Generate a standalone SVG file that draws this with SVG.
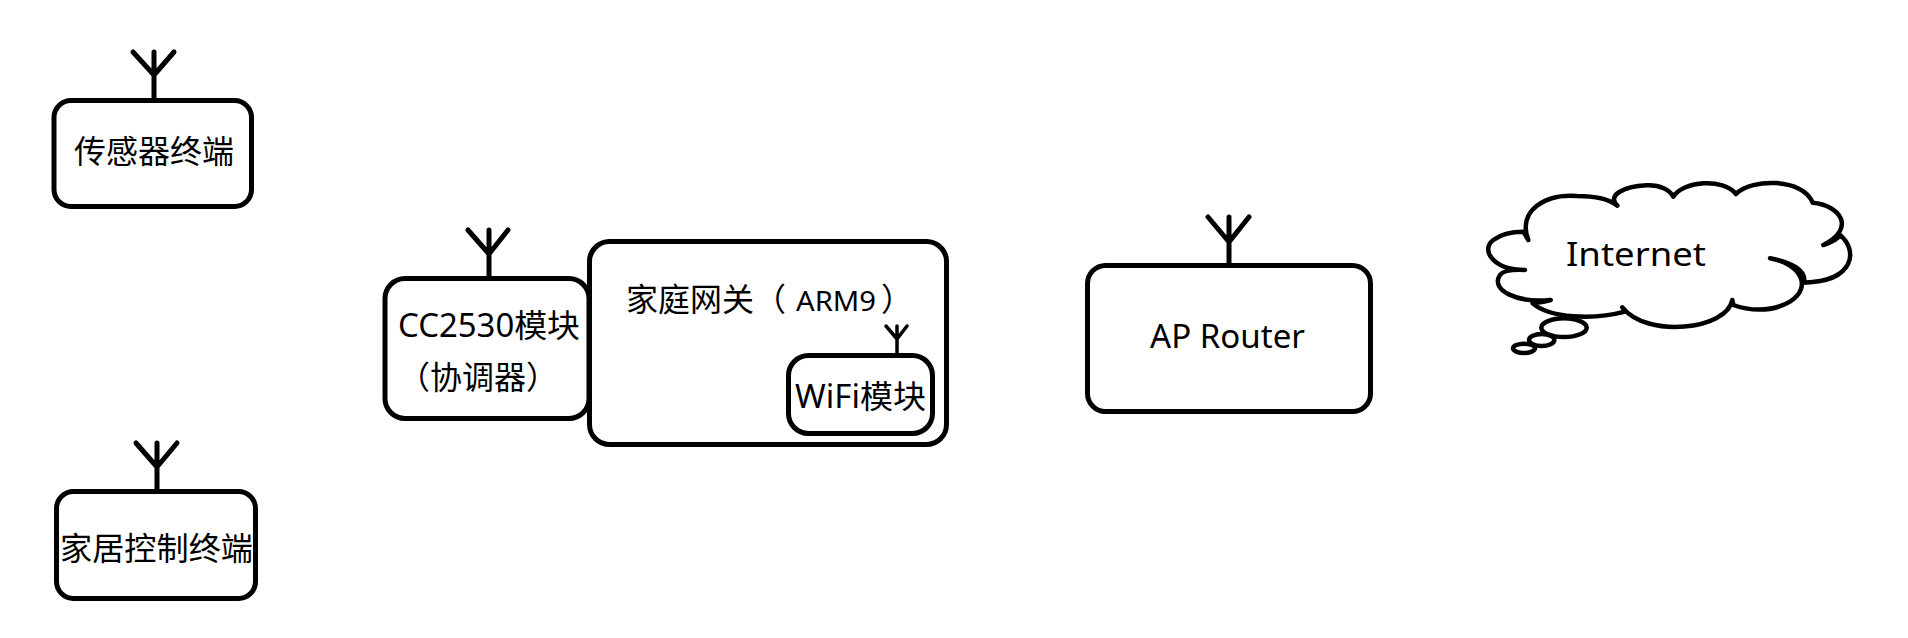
<svg xmlns="http://www.w3.org/2000/svg" width="1908" height="638" viewBox="0 0 1908 638">
<style>
.box{fill:#fff;stroke:#000;stroke-width:5}
.ant{fill:none;stroke:#000;stroke-width:5;stroke-linecap:round;stroke-linejoin:round}
.cloud{fill:#fff;stroke:#000;stroke-width:13.5;stroke-linecap:round;stroke-linejoin:round}
text{font-family:"Noto Sans","Noto Sans CJK SC",sans-serif;font-size:32px;fill:#000}
</style>
<rect width="1908" height="638" fill="#fff"/>
<g id="sensor-terminal">
<path class="ant" d="M154 52V100M133 52L154 75L174 52"/>
<rect class="box" x="54" y="100.500" width="197.500" height="106" rx="17"/>
<text x="74" y="163" textLength="160" lengthAdjust="spacingAndGlyphs">传感器终端</text>
</g>
<g id="home-control-terminal">
<path class="ant" d="M157 443V491M136 443L157 467L177 443"/>
<rect class="box" x="56.500" y="491.500" width="199" height="107" rx="17"/>
<text x="60" y="560" textLength="193" lengthAdjust="spacingAndGlyphs">家居控制终端</text>
</g>
<g id="cc2530-module">
<path class="ant" d="M489 230V279M468 230L489 254L508 230"/>
<rect class="box" x="385" y="278.500" width="204" height="140" rx="20"/>
<text x="398" y="337" textLength="182" lengthAdjust="spacingAndGlyphs">CC2530模块</text>
<text x="398" y="389">（协调器）</text>
</g>
<g id="home-gateway">
<rect class="box" x="589.500" y="241.500" width="357" height="203" rx="20"/>
<text y="311"><tspan x="626">家庭网关</tspan><tspan x="754">（</tspan><tspan x="796" font-size="28" textLength="80" lengthAdjust="spacingAndGlyphs">ARM9</tspan><tspan x="881">）</tspan></text>
</g>
<g id="wifi-module">
<path class="ant" style="stroke-width:3.500" d="M897 326V355M886 326L897 339L907 326"/>
<rect class="box" x="788.500" y="355.500" width="144" height="78" rx="20"/>
<text x="795" y="408" textLength="131" lengthAdjust="spacingAndGlyphs">WiFi模块</text>
</g>
<g id="ap-router">
<path class="ant" d="M1229 217V265M1208 217L1229 242L1249 217"/>
<rect class="box" x="1087.500" y="265.500" width="283" height="146" rx="18"/>
<text x="1150" y="348" textLength="155" lengthAdjust="spacingAndGlyphs">AP Router</text>
</g>
<g id="internet">
<g transform="translate(1460 170) scale(.33333)">
<path class="cloud" d="M205 210C170 120 260 70 350 78C400 78 445 85 472 107C440 75 490 50 560 46C600 44 630 60 640 80C670 32 790 24 828 72C875 24 1030 24 1058 98C1140 105 1190 175 1090 225C1120 215 1135 205 1140 195C1195 240 1185 335 1032 338C1040 300 990 275 930 265C1020 280 1060 350 990 395C930 430 860 420 820 405L817 390C800 480 560 505 487 412L495 425C400 450 270 445 218 400C240 398 255 395 272 390C170 400 90 360 120 315C128 303 150 298 195 300C100 300 60 240 100 210C125 190 160 185 190 185Z"/>
<ellipse class="cloud" cx="192" cy="535" rx="33" ry="14"/>
<ellipse class="cloud" cx="245" cy="510" rx="38" ry="18"/>
<ellipse class="cloud" cx="312" cy="473" rx="68" ry="28"/>
</g>
<text x="1566" y="266" font-size="37" textLength="140" lengthAdjust="spacingAndGlyphs">Internet</text>
</g>
</svg>
